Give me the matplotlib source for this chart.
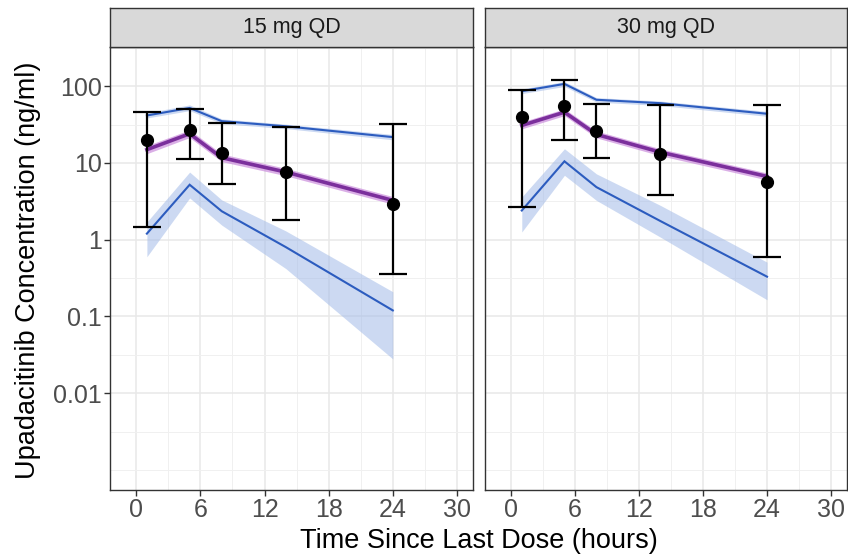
import matplotlib
matplotlib.use("Agg")
import matplotlib.pyplot as plt
import numpy as np

plt.rcParams['font.family'] = ['Liberation Sans', 'DejaVu Sans']

# ---------------- data ----------------
panels = ["15 mg QD", "30 mg QD"]
time_h = [1, 5, 8, 14, 24]

# observed mean with error bars
obs_15_mean = [19.6, 27.0, 13.4, 7.6, 2.88]
obs_15_lo = [1.46, 11.1, 5.3, 1.78, 0.36]
obs_15_hi = [45.8, 50.8, 33.4, 29.3, 32.4]
obs_30_mean = [39.5, 55.0, 25.7, 12.9, 5.7]
obs_30_lo = [2.7, 19.6, 11.6, 3.8, 0.59]
obs_30_hi = [88.0, 121.0, 59.0, 57.0, 57.0]

# predicted upper percentile (blue)
up_15 = [41.5, 52.0, 35.0, 30.0, 21.7]
up_15_lo = [38.5, 48.0, 32.5, 28.0, 20.0]
up_15_hi = [45.0, 57.0, 37.5, 32.0, 23.5]
up_30 = [86.0, 107.0, 66.5, 60.0, 43.7]
up_30_lo = [80.0, 99.0, 62.0, 56.0, 40.5]
up_30_hi = [92.0, 115.0, 71.0, 64.0, 47.0]

# predicted median (purple)
med_15 = [14.9, 24.0, 11.7, 7.6, 3.25]
med_15_lo = [13.2, 21.4, 10.4, 6.8, 2.9]
med_15_hi = [16.8, 27.0, 13.1, 8.5, 3.65]
med_30 = [30.8, 45.8, 23.5, 13.8, 6.67]
med_30_lo = [27.8, 41.3, 21.2, 12.4, 6.0]
med_30_hi = [34.2, 50.7, 26.1, 15.3, 7.4]

# predicted lower percentile (blue)
low_15 = [1.2, 5.2, 2.35, 0.8, 0.12]
low_15_lo = [0.6, 3.5, 1.55, 0.42, 0.028]
low_15_hi = [1.7, 7.6, 3.3, 1.3, 0.21]
low_30 = [2.4, 10.5, 4.84, 1.75, 0.33]
low_30_lo = [1.26, 6.9, 3.25, 1.08, 0.165]
low_30_hi = [3.6, 15.3, 7.2, 2.8, 0.51]

x_ticks = [0, 6, 12, 18, 24, 30]
x_minor = [3, 9, 15, 21, 27]
y_ticks = [0.01, 0.1, 1, 10, 100]
y_tick_labels = ["0.01", "0.1", "1", "10", "100"]
y_minor = [0.001, 10**-2.5, 10**-1.5, 10**-0.5, 10**0.5, 10**1.5, 10**2.5]

data = {
    "15 mg QD": dict(obs=(obs_15_mean, obs_15_lo, obs_15_hi),
                     up=(up_15, up_15_lo, up_15_hi),
                     med=(med_15, med_15_lo, med_15_hi),
                     low=(low_15, low_15_lo, low_15_hi)),
    "30 mg QD": dict(obs=(obs_30_mean, obs_30_lo, obs_30_hi),
                     up=(up_30, up_30_lo, up_30_hi),
                     med=(med_30, med_30_lo, med_30_hi),
                     low=(low_30, low_30_lo, low_30_hi)),
}

# ---------------- style ----------------
W, H = 848, 560
fig = plt.figure(figsize=(W / 100, H / 100), dpi=100)

BLUE = "#2c5cbf"
BLUE_BAND = "#a3bbe8"
PURPLE = "#7b2f9c"
PURPLE_BAND = "#c784da"
EDGE = "#333333"

panel_px = [(110, 473), (485, 847)]
top_px, bot_px, strip_top = 47, 490, 8

for i, (name, (x0, x1)) in enumerate(zip(panels, panel_px)):
    ax = fig.add_axes([x0 / W, (H - bot_px) / H, (x1 - x0) / W, (bot_px - top_px) / H])
    sax = fig.add_axes([x0 / W, (H - top_px) / H, (x1 - x0) / W, (top_px - strip_top) / H])
    d = data[name]

    ax.set_yscale("log")
    ax.set_xlim(-2.45, 31.5)
    ax.set_ylim(10**-3.26, 10**2.51)

    # grid
    for v in x_ticks:
        ax.axvline(v, color="#e8e8e8", lw=1.1, zorder=0)
    for v in x_minor:
        ax.axvline(v, color="#f0f0f0", lw=0.7, zorder=0)
    for v in y_ticks:
        ax.axhline(v, color="#e8e8e8", lw=1.1, zorder=0)
    for v in y_minor:
        ax.axhline(v, color="#f0f0f0", lw=0.7, zorder=0)

    # bands and lines
    for key, col, bcol, lw, alpha in [("low", BLUE, BLUE_BAND, 1.5, 0.55),
                                       ("up", BLUE, BLUE_BAND, 1.5, 0.55),
                                       ("med", PURPLE, PURPLE_BAND, 2.6, 0.65)]:
        mid, lo, hi = d[key]
        ax.fill_between(time_h, lo, hi, color=bcol, alpha=alpha, lw=0, zorder=1)
        ax.plot(time_h, mid, color=col, lw=lw, zorder=2, solid_joinstyle="miter")

    # observed
    m, lo, hi = d["obs"]
    ax.vlines(time_h, lo, hi, color="black", lw=1.6, zorder=3)
    cap = 1.3
    ax.hlines(lo, np.array(time_h) - cap, np.array(time_h) + cap, color="black", lw=1.6, zorder=3)
    ax.hlines(hi, np.array(time_h) - cap, np.array(time_h) + cap, color="black", lw=1.6, zorder=3)
    ax.plot(time_h, m, "o", color="black", ms=8.5, zorder=4)

    ax.set_xticks(x_ticks)
    ax.set_xticklabels([str(v) for v in x_ticks])
    ax.set_xticks([], minor=True)
    ax.set_yticks(y_ticks)
    ax.set_yticks([], minor=True)
    if i == 0:
        ax.set_yticklabels(y_tick_labels)
        ax.tick_params(axis="y", length=4, width=1, color=EDGE, labelsize=18,
                       labelcolor="#4d4d4d", pad=2)
    else:
        ax.tick_params(axis="y", length=0, labelleft=False)
    ax.tick_params(axis="x", length=4, width=1, color=EDGE, labelsize=18,
                   labelcolor="#4d4d4d", pad=2)
    for s in ax.spines.values():
        s.set_color(EDGE)
        s.set_linewidth(1.0)

    # strip
    sax.set_facecolor("#d9d9d9")
    sax.set_xticks([])
    sax.set_yticks([])
    for s in sax.spines.values():
        s.set_color(EDGE)
        s.set_linewidth(1.0)
    sax.text(0.5, 0.5, name, ha="center", va="center", fontsize=15.5,
             color="#1a1a1a", transform=sax.transAxes)

fig.text(479 / W, 1 - 541 / H, "Time Since Last Dose (hours)", ha="center", va="center",
         fontsize=19.5, color="black")
fig.text(28 / W, 1 - 270 / H, "Upadacitinib Concentration (ng/ml)", ha="center", va="center",
         rotation=90, fontsize=19.5, color="black")

fig.savefig("out.png", dpi=100)
